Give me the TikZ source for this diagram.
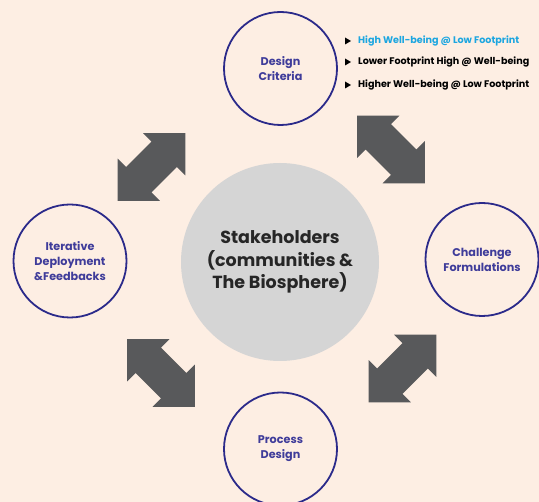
\documentclass[tikz,border=0pt]{standalone}
\usepackage{fontspec}
\setmainfont{Poppins}
\usetikzlibrary{positioning}
\definecolor{bgpeach}{HTML}{FDEEE3}
\definecolor{ringblue}{HTML}{2B2A8A}
\definecolor{labelblue}{HTML}{3F3C9A}
\definecolor{hubgray}{HTML}{D5D5D5}
\definecolor{arrowgray}{HTML}{58595B}
\definecolor{highlight}{HTML}{1CA6E0}
\begin{document}
\begin{tikzpicture}[x=1pt, y=-1pt, line join=round,
    stage/.style={circle, draw=ringblue, line width=1.8pt, minimum size=113pt, inner sep=0pt,
      text=labelblue, align=center, font=\bfseries\fontsize{11.2}{15}\selectfont},
    hub/.style={circle, fill=hubgray, minimum size=198pt, inner sep=0pt, text=black!85,
      align=center, font=\bfseries\fontsize{17.5}{22.5}\selectfont},
    point/.style={anchor=west, inner sep=0pt, font=\bfseries\fontsize{9.6}{11}\selectfont}]
  \fill[bgpeach] (0,0) rectangle (539,502);
  \useasboundingbox (0,0) rectangle (539,502);
  % block arrows between the stages
  \foreach \cx/\cy/\ang in {151.5/167/45, 391/149.5/-45, 161/373/-45, 402.5/368.5/45}
    \fill[arrowgray, shift={(\cx,\cy)}, rotate=\ang]
      (48,0) -- (18,-30) -- (18,-18) -- (-18,-18) -- (-18,-30) -- (-48,0)
      -- (-18,30) -- (-18,18) -- (18,18) -- (18,30) -- cycle;
  % hub and stages
  \node[hub] (hub) at (280,262) {Stakeholders\\(communities \&\\The Biosphere)};
  \node[stage] (design) at (280.5,68.5) {Design\\Criteria};
  \node[stage] (iterate) at (70,261) {Iterative\\Deployment\\\&Feedbacks};
  \node[stage] (challenge) at (482,259.5) {Challenge\\Formulations};
  \node[stage] (process) at (280.5,449) {Process\\Design};
  % criteria list
  \node[point, text=highlight] (crit1) at (358,41) {High Well-being @ Low Footprint};
  \node[point] (crit2) at (358,62) {Lower Footprint High @ Well-being};
  \node[point] (crit3) at (358,85) {Higher Well-being @ Low Footprint};
  \foreach \c in {crit1,crit2,crit3}
    \fill ([xshift=-13pt]\c.west) ++(0,-3.5) -- ++(6,3.5) -- ++(-6,3.5) -- cycle;
\end{tikzpicture}
\end{document}
